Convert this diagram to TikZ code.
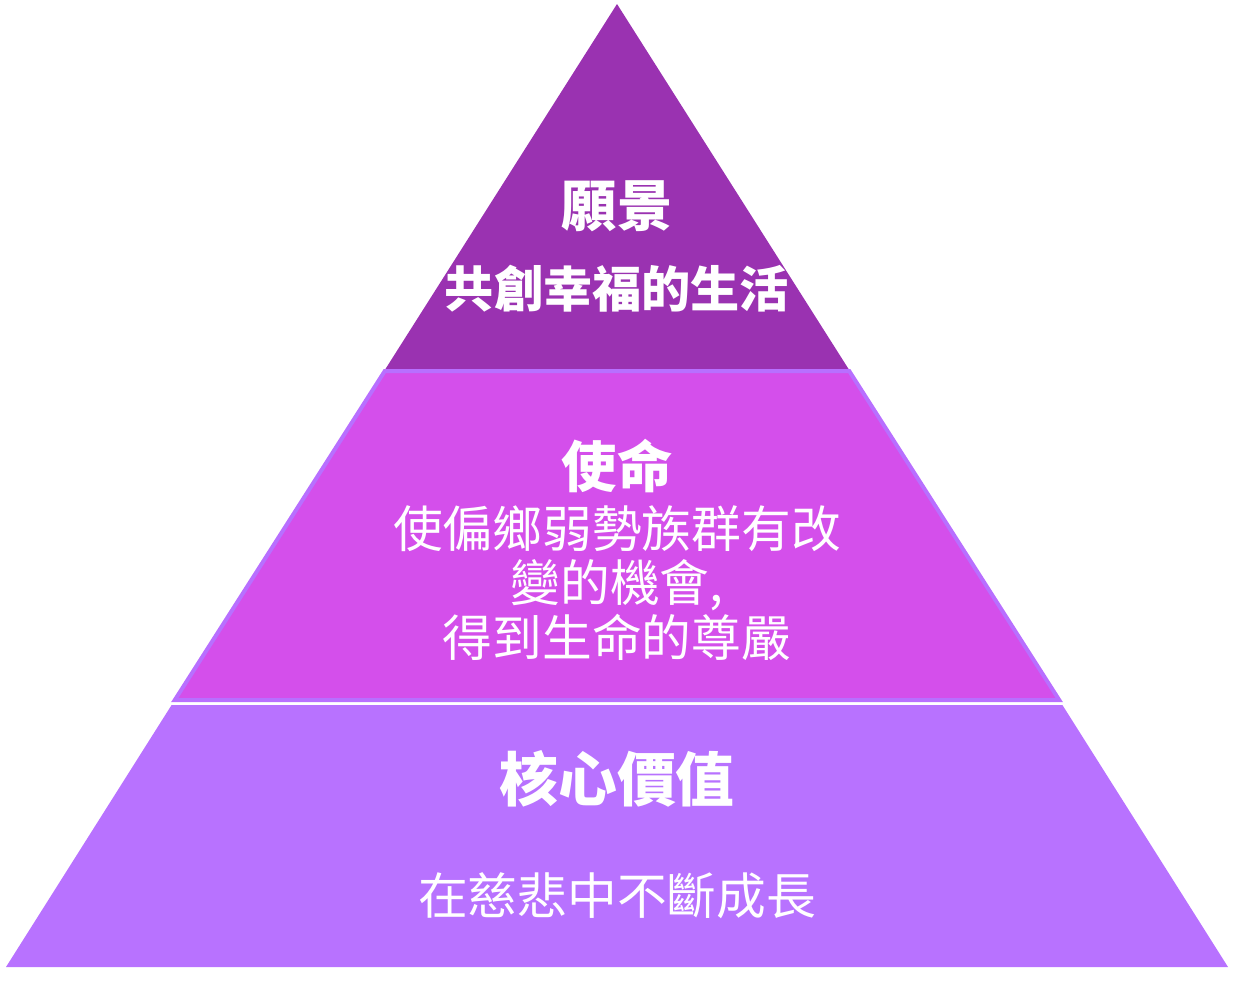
\documentclass[tikz,border=0pt]{standalone}
\usepackage{fontspec}
\setmainfont{Noto Sans CJK TC}
\usepackage{tikz}
\usetikzlibrary{positioning,calc}
\definecolor{ptop}{HTML}{9A32B1}
\definecolor{pmid}{HTML}{D44FEB}
\definecolor{pbot}{HTML}{B872FF}
\definecolor{pedge}{HTML}{B86FFF}
\tikzset{
  head/.style={text=white,font=\fontsize{31.5}{36}\selectfont\bfseries,inner sep=0pt},
  headb/.style={text=white,font=\fontsize{28}{31}\selectfont\bfseries,inner sep=0pt},
  body/.style={text=white,font=\fontsize{28.3}{31.2}\selectfont,align=center,inner sep=0pt},
}

\begin{document}
\begin{tikzpicture}[x=0.02cm,y=-0.02cm]
  \useasboundingbox (0,0) rectangle (1233,984);
  % tiers of the pyramid
  \fill[ptop] (617,4) -- (849.2,370) -- (384.8,370) -- cycle;
  \filldraw[pmid,draw=pedge,line width=0.08cm,line join=miter] (384.8,371) -- (849.2,371) -- (1059.2,700) -- (174.8,700) -- cycle;
  \fill[pbot] (171.6,705) -- (1062.4,705) -- (1228,967) -- (6,967) -- cycle;
  % texts
  \node[head] (vision) at (617,206) {願景};
  \node[headb] (visiontxt) at (617,289) {共創幸福的生活};
  \node[head] (mission) at (617,466) {使命};
  \node[body] (missiontxt) at (617,583) {使偏鄉弱勢族群有改\\變的機會,\\得到生命的尊嚴};
  \node[head,font=\fontsize{33.5}{38}\selectfont\bfseries] (values) at (617,779) {核心價值};
  \node[body] (valuestxt) at (617,896) {在慈悲中不斷成長};
\end{tikzpicture}
\end{document}
